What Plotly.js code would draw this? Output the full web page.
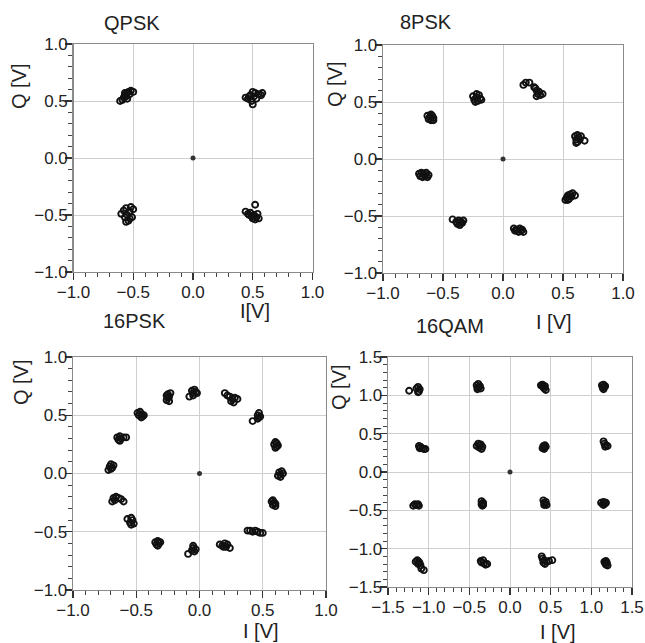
<!DOCTYPE html>
<html>
<head>
<meta charset="utf-8">
<script src="https://cdn.plot.ly/plotly-3.0.1.min.js"></script>
<style>html,body{margin:0;padding:0;background:#fff;}#chart{width:645px;height:643px;}</style>
</head>
<body>
<div id="chart"></div>
<script>
// ---- data (I, Q pairs in volts) ----
const panelTitles = ["QPSK", "8PSK", "16PSK", "16QAM"];
const xAxisTitles = ["I[V]", "I [V]", "I [V]", "I [V]"];
const yAxisTitles = ["Q [V]", "Q [V]", "Q [V]", "Q [V]"];
const pskRange = [-1.0, 1.0];
const qamRange = [-1.5, 1.5];
const majorStep = 0.5;
const minorStep = 0.1;
const originPoint = [[0, 0]];

const qpskPoints = [
  [-0.61,0.50],[-0.59,0.51],[-0.58,0.53],[-0.57,0.55],[-0.56,0.54],[-0.55,0.57],[-0.54,0.58],[-0.53,0.56],[-0.52,0.59],[-0.50,0.58],[-0.55,0.52],[-0.57,0.57],
  [0.44,0.53],[0.46,0.52],[0.48,0.55],[0.49,0.50],[0.50,0.47],[0.51,0.54],[0.52,0.57],[0.53,0.52],[0.55,0.56],[0.57,0.55],[0.58,0.57],[0.50,0.58],[0.47,0.54],
  [-0.60,-0.49],[-0.58,-0.46],[-0.57,-0.52],[-0.56,-0.44],[-0.55,-0.50],[-0.54,-0.55],[-0.53,-0.47],[-0.52,-0.43],[-0.51,-0.52],[-0.50,-0.45],[-0.56,-0.56],[-0.53,-0.53],
  [0.44,-0.47],[0.46,-0.49],[0.48,-0.48],[0.49,-0.51],[0.50,-0.53],[0.51,-0.50],[0.52,-0.54],[0.53,-0.52],[0.55,-0.53],[0.52,-0.41],[0.47,-0.50],[0.54,-0.49]
];

const psk8Points = [
  [0.17,0.65],[0.19,0.67],[0.22,0.67],[0.26,0.63],[0.28,0.60],[0.29,0.57],[0.30,0.59],[0.31,0.56],[0.33,0.57],[0.28,0.55],[0.27,0.62],
  [-0.25,0.55],[-0.24,0.52],[-0.23,0.50],[-0.22,0.54],[-0.21,0.51],[-0.20,0.56],[-0.19,0.53],[-0.18,0.52],[-0.22,0.57],
  [-0.63,0.38],[-0.62,0.35],[-0.61,0.37],[-0.60,0.34],[-0.59,0.38],[-0.58,0.36],[-0.60,0.39],[-0.58,0.34],
  [-0.70,-0.13],[-0.69,-0.15],[-0.68,-0.12],[-0.67,-0.16],[-0.66,-0.13],[-0.65,-0.15],[-0.64,-0.12],[-0.63,-0.16],[-0.62,-0.14],
  [-0.42,-0.53],[-0.39,-0.55],[-0.38,-0.57],[-0.37,-0.54],[-0.36,-0.58],[-0.35,-0.55],[-0.34,-0.56],[-0.33,-0.54],[-0.36,-0.56],
  [0.09,-0.61],[0.10,-0.63],[0.12,-0.62],[0.13,-0.64],[0.14,-0.61],[0.15,-0.63],[0.16,-0.62],[0.17,-0.64],[0.11,-0.62],
  [0.52,-0.36],[0.53,-0.34],[0.54,-0.32],[0.55,-0.35],[0.56,-0.31],[0.57,-0.33],[0.58,-0.30],[0.60,-0.32],[0.54,-0.36],
  [0.60,0.20],[0.61,0.17],[0.62,0.15],[0.63,0.19],[0.62,0.21],[0.64,0.17],[0.65,0.20],[0.68,0.16],[0.61,0.14]
];

const psk16Points = [
  [-0.26,0.63],[-0.25,0.65],[-0.25,0.68],[-0.24,0.66],[-0.24,0.62],[-0.23,0.69],[-0.26,0.67],
  [-0.08,0.66],[-0.06,0.71],[-0.05,0.69],[-0.04,0.72],[-0.03,0.70],[-0.02,0.69],[-0.05,0.67],
  [0.20,0.69],[0.22,0.67],[0.24,0.66],[0.26,0.64],[0.27,0.61],[0.28,0.65],[0.30,0.64],[0.25,0.62],
  [0.42,0.45],[0.46,0.50],[0.47,0.52],[0.47,0.48],[0.48,0.49],[0.46,0.47],
  [0.59,0.25],[0.60,0.22],[0.61,0.26],[0.61,0.23],[0.62,0.24],[0.60,0.27],
  [0.62,-0.02],[0.63,0.01],[0.64,-0.01],[0.65,0.02],[0.66,0.00],[0.64,-0.03],
  [0.57,-0.24],[0.58,-0.27],[0.59,-0.25],[0.60,-0.28],[0.58,-0.23],[0.60,-0.26],
  [0.38,-0.49],[0.40,-0.49],[0.42,-0.50],[0.44,-0.49],[0.46,-0.50],[0.48,-0.51],[0.50,-0.51],
  [0.16,-0.61],[0.18,-0.62],[0.20,-0.60],[0.21,-0.63],[0.22,-0.61],[0.24,-0.64],[0.19,-0.63],
  [-0.09,-0.69],[-0.06,-0.66],[-0.05,-0.64],[-0.04,-0.67],[-0.03,-0.65],[-0.05,-0.62],
  [-0.35,-0.59],[-0.34,-0.61],[-0.33,-0.58],[-0.32,-0.60],[-0.31,-0.59],[-0.33,-0.62],
  [-0.57,-0.39],[-0.55,-0.42],[-0.54,-0.44],[-0.53,-0.40],[-0.52,-0.43],[-0.54,-0.38],
  [-0.69,-0.24],[-0.68,-0.21],[-0.66,-0.20],[-0.64,-0.21],[-0.62,-0.22],[-0.60,-0.24],[-0.67,-0.23],
  [-0.72,0.03],[-0.71,0.06],[-0.70,0.08],[-0.69,0.05],[-0.68,0.07],[-0.70,0.04],
  [-0.65,0.31],[-0.64,0.29],[-0.63,0.32],[-0.62,0.30],[-0.60,0.31],[-0.58,0.31],[-0.63,0.28],
  [-0.49,0.52],[-0.48,0.50],[-0.47,0.53],[-0.46,0.51],[-0.45,0.49],[-0.44,0.50],[-0.46,0.48]
];

const qam16Points = [
  [-1.24,1.06],[-1.15,1.09],[-1.13,1.11],[-1.12,1.05],[-1.11,1.08],[-1.13,1.04],
  [-0.41,1.13],[-0.40,1.10],[-0.39,1.15],[-0.38,1.11],[-0.37,1.12],[-0.36,1.09],[-0.40,1.08],
  [0.38,1.13],[0.40,1.14],[0.41,1.11],[0.42,1.09],[0.44,1.07],[0.43,1.12],[0.40,1.12],
  [1.13,1.13],[1.14,1.10],[1.15,1.14],[1.16,1.11],[1.17,1.12],[1.15,1.08],
  [-1.12,0.34],[-1.11,0.31],[-1.10,0.33],[-1.08,0.31],[-1.06,0.30],[-1.04,0.30],
  [-0.41,0.34],[-0.39,0.37],[-0.38,0.32],[-0.37,0.35],[-0.35,0.30],[-0.34,0.33],[-0.36,0.36],
  [0.40,0.31],[0.41,0.34],[0.42,0.32],[0.43,0.35],[0.44,0.33],[0.42,0.30],
  [1.15,0.40],[1.16,0.37],[1.18,0.35],[1.20,0.34],[1.17,0.33],
  [-1.19,-0.44],[-1.17,-0.42],[-1.15,-0.43],[-1.13,-0.42],[-1.12,-0.44],
  [-0.35,-0.38],[-0.34,-0.41],[-0.34,-0.44],[-0.33,-0.40],[-0.33,-0.43],[-0.35,-0.42],
  [0.41,-0.37],[0.42,-0.40],[0.43,-0.42],[0.44,-0.39],[0.45,-0.43],[0.42,-0.43],
  [1.12,-0.40],[1.14,-0.42],[1.15,-0.39],[1.17,-0.41],[1.18,-0.40],[1.15,-0.43],
  [-1.16,-1.17],[-1.14,-1.15],[-1.13,-1.20],[-1.12,-1.17],[-1.10,-1.22],[-1.09,-1.26],[-1.06,-1.28],[-1.11,-1.19],
  [-0.36,-1.16],[-0.35,-1.18],[-0.33,-1.15],[-0.32,-1.19],[-0.30,-1.21],[-0.28,-1.20],
  [0.39,-1.10],[0.40,-1.13],[0.41,-1.18],[0.43,-1.20],[0.45,-1.17],[0.48,-1.16],[0.52,-1.15],[0.42,-1.15],
  [1.16,-1.17],[1.17,-1.19],[1.18,-1.21],[1.19,-1.18],[1.20,-1.22],[1.18,-1.16]
];

// ---- build ----
const FONT = "Liberation Sans, Arial, Helvetica, sans-serif";
const sets = [qpskPoints, psk8Points, psk16Points, qam16Points];
const axisIds = [["x","y"],["x2","y2"],["x3","y3"],["x4","y4"]];
const traces = [];
sets.forEach((pts, i) => {
  traces.push({
    type: "scatter", mode: "markers",
    x: pts.map(p => p[0]), y: pts.map(p => p[1]),
    xaxis: axisIds[i][0], yaxis: axisIds[i][1],
    marker: {symbol: "circle-open", size: 6, color: "#111", line: {width: 1.9, color: "#111"}},
    showlegend: false, hoverinfo: "x+y"
  });
  traces.push({
    type: "scatter", mode: "markers",
    x: originPoint.map(p => p[0]), y: originPoint.map(p => p[1]),
    xaxis: axisIds[i][0], yaxis: axisIds[i][1],
    marker: {symbol: "circle", size: 5, color: "#333"},
    showlegend: false, hoverinfo: "x+y"
  });
});

function axis(domain, range, anchor, isY) {
  return {
    domain: domain, range: range, anchor: anchor,
    tickmode: "linear", tick0: 0, dtick: majorStep, tickformat: ".1f",
    ticks: "outside", ticklen: 7, tickwidth: 1.2, tickcolor: "#333",
    minor: {tickmode: "linear", tick0: 0, dtick: minorStep, ticks: "outside", ticklen: 4, tickwidth: 1, tickcolor: "#444", showgrid: false},
    showgrid: true, gridcolor: "#cfcfcf", gridwidth: 1,
    zeroline: false,
    showline: true, mirror: true, linecolor: "#8a8a8a", linewidth: 1.3,
    tickfont: {family: FONT, size: 17, color: "#222"},
    ticklabelstandoff: isY ? -6 : -3,
    fixedrange: true
  };
}

const W = 645, H = 643;
const px = (a, b) => [a / W, b / W];
const py = (top, bottom) => [1 - bottom / H, 1 - top / H];

const layout = {
  width: W, height: H,
  margin: {l: 0, r: 0, t: 0, b: 0},
  paper_bgcolor: "#fff", plot_bgcolor: "#fff",
  showlegend: false,
  xaxis:  axis(px(73.5, 312.5), pskRange, "y", false),
  yaxis:  axis(py(44, 272), pskRange, "x", true),
  xaxis2: axis(px(383, 623), pskRange, "y2", false),
  yaxis2: axis(py(45, 273), pskRange, "x2", true),
  xaxis3: axis(px(73, 326), pskRange, "y3", false),
  yaxis3: axis(py(357, 590), pskRange, "x3", true),
  xaxis4: axis(px(388, 632), qamRange, "y4", false),
  yaxis4: axis(py(357, 587), qamRange, "x4", true),
  annotations: []
};

const titlePos = [[132, 23], [426, 22], [134, 321], [450, 326]];
const xTitlePos = [[255, 311], [554, 322], [261, 631], [558, 632]];
const yTitlePos = [[19, 86], [335, 84], [21, 382], [339, 387]];
const ann = (text, x, y, size, angle) => ({
  text: text, xref: "paper", yref: "paper", x: x / W, y: 1 - y / H,
  xanchor: "center", yanchor: "middle", showarrow: false, textangle: angle || 0,
  font: {family: FONT, size: size, color: "#222"}
});
for (let i = 0; i < 4; i++) {
  layout.annotations.push(ann(panelTitles[i], titlePos[i][0], titlePos[i][1], 20));
  layout.annotations.push(ann(xAxisTitles[i], xTitlePos[i][0], xTitlePos[i][1], 20));
  layout.annotations.push(ann(yAxisTitles[i], yTitlePos[i][0], yTitlePos[i][1], 20, -90));
}

Plotly.newPlot("chart", traces, layout, {staticPlot: true, displayModeBar: false});
</script>
</body>
</html>
